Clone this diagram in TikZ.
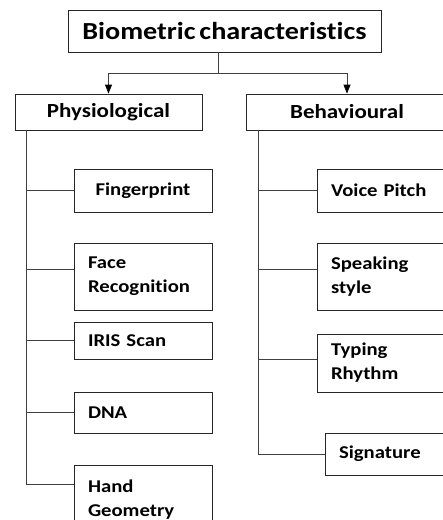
\documentclass[tikz,border=0pt]{standalone}
\usepackage{fontspec}
\setmainfont{Carlito}[FakeStretch=1.15,WordSpace=0.6,Ligatures=NoCommon]
\usepackage{tikz}
\usetikzlibrary{arrows.meta,calc,positioning}

\tikzset{
    cajaTop/.style={draw=black!85,line width=0.8pt,minimum width=313pt,minimum height=42pt,inner sep=0pt,font=\fontsize{24.5}{28}\selectfont\bfseries},
    cajaCat/.style={draw=black!85,line width=0.8pt,minimum height=36pt,inner sep=0pt,font=\fontsize{20}{24}\selectfont\bfseries},
    cajaHoja/.style={draw=black!85,line width=0.8pt,inner xsep=14pt,inner ysep=0pt,align=left,font=\fontsize{18}{24}\selectfont\bfseries},
    rama/.style={draw=black!75,line width=0.8pt},
    flecha/.style={-{Triangle[length=9pt,width=7pt,color=black,fill=black]}}
}

\begin{document}
\begin{tikzpicture}[x=1pt,y=-1pt]
    \clip (0,0) rectangle (443,520);
    \node[cajaTop] (bio) at (224.5,31) {Biometric characteristics};
    \node[cajaCat,minimum width=187pt] (fisio) at (108.5,112) {Physiological};
    \node[cajaCat,minimum width=202pt] (compo) at (347,112) {Behavioural};
    \coordinate (fork) at (218,73);
    \draw[rama] (fork |- bio.south) -- (fork);
    \draw[rama,flecha] (fork) -| (fisio.north);
    \draw[rama,flecha] (fork) -| (compo.north);

    % physiological
    \node[cajaHoja,text width=110pt,minimum height=43pt,align=center] (finger) at (143,190.5) {Fingerprint};
    \node[cajaHoja,text width=110pt,minimum height=67pt] (face) at (143,276.5) {Face\\Recognition};
    \node[cajaHoja,text width=110pt,minimum height=37pt] (iris) at (143,340.5) {IRIS Scan};
    \node[cajaHoja,text width=110pt,minimum height=41pt] (dna) at (143,412.5) {DNA};
    \node[cajaHoja,text width=110pt,minimum height=70pt] (hand) at (143,500) {Hand\\Geometry};
    \coordinate (faceIn) at ([yshift=7pt]face.west);
    \coordinate (handIn) at ([yshift=16pt]hand.west);
    \coordinate (troncoL) at ([xshift=12pt]fisio.south west);
    \draw[rama] (troncoL) |- (handIn);
    \draw[rama] (troncoL |- finger.west) -- (finger.west);
    \draw[rama] (troncoL |- faceIn) -- (faceIn);
    \draw[rama] (troncoL |- iris.west) -- (iris.west);
    \draw[rama] (troncoL |- dna.west) -- (dna.west);

    % behavioural
    \node[cajaHoja,text width=125pt,minimum height=43pt] (voz) at (393.5,190.5) {Voice Pitch};
    \node[cajaHoja,text width=125pt,minimum height=67pt] (habla) at (393.5,276.5) {Speaking\\style};
    \node[cajaHoja,text width=125pt,minimum height=58pt] (tecleo) at (393.5,363) {Typing\\Rhythm};
    \node[cajaHoja,text width=117pt,minimum height=42pt] (firma) at (397.5,454) {Signature};
    \coordinate (hablaIn) at ([yshift=7pt]habla.west);
    \coordinate (tecleoIn) at ([yshift=4pt]tecleo.west);
    \coordinate (troncoR) at ([xshift=13pt]compo.south west);
    \draw[rama] (troncoR) |- (firma.west);
    \draw[rama] (troncoR |- voz.west) -- (voz.west);
    \draw[rama] (troncoR |- hablaIn) -- (hablaIn);
    \draw[rama] (troncoR |- tecleoIn) -- (tecleoIn);
\end{tikzpicture}
\end{document}
